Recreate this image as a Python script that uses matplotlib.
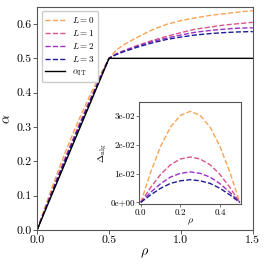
import matplotlib
matplotlib.use("Agg")
import matplotlib.pyplot as plt
from matplotlib.ticker import FormatStrFormatter
import numpy as np

plt.rcParams['font.family'] = 'serif'
plt.rcParams['font.serif'] = ['cmr10', 'DejaVu Serif']
plt.rcParams['mathtext.fontset'] = 'cm'
plt.rcParams['axes.formatter.use_mathtext'] = True
plt.rcParams['axes.unicode_minus'] = False

# data
rho_lo = [0.0, 0.05, 0.10, 0.15, 0.20, 0.25, 0.30, 0.35, 0.40, 0.45, 0.50]
delta = {
    0: [0, 0.0105, 0.0195, 0.0262, 0.0303, 0.0317, 0.0303, 0.0262, 0.0195, 0.0105, 0],
    1: [0, 0.0052, 0.0097, 0.0131, 0.0151, 0.0158, 0.0151, 0.0131, 0.0097, 0.0052, 0],
    2: [0, 0.0035, 0.0065, 0.0088, 0.0101, 0.0106, 0.0101, 0.0088, 0.0065, 0.0035, 0],
    3: [0, 0.0026, 0.0049, 0.0066, 0.0075, 0.0079, 0.0075, 0.0066, 0.0049, 0.0026, 0],
}
rho_hi = [0.5, 0.55, 0.6, 0.7, 0.8, 0.9, 1.0, 1.1, 1.2, 1.3, 1.4, 1.5]
alpha_hi = {
    0: [0.5, 0.524, 0.539, 0.562, 0.583, 0.599, 0.610, 0.618, 0.625, 0.630, 0.635, 0.639],
    1: [0.5, 0.513, 0.522, 0.538, 0.552, 0.564, 0.575, 0.585, 0.591, 0.597, 0.601, 0.605],
    2: [0.5, 0.512, 0.521, 0.536, 0.549, 0.559, 0.568, 0.576, 0.581, 0.585, 0.588, 0.589],
    3: [0.5, 0.511, 0.519, 0.533, 0.545, 0.555, 0.562, 0.568, 0.572, 0.575, 0.577, 0.578],
}
rho_it = [0.0, 0.5, 1.5]
alpha_it = [0.0, 0.5, 0.5]
colors = {0: '#f9a354', 1: '#d9558c', 2: '#9a2fc8', 3: '#1c1c96'}

fig = plt.figure(figsize=(2.65, 2.64), dpi=100)
ax = fig.add_axes([0.140, 0.129, 0.814, 0.845])

for L in range(4):
    a_lo = np.array(rho_lo) + np.array(delta[L])
    x = list(rho_lo) + rho_hi[1:]
    y = list(a_lo) + alpha_hi[L][1:]
    ax.plot(x, y, '--', color=colors[L], lw=1.0, label=r'$L = %d$' % L)
ax.plot(rho_it, alpha_it, '-', color='black', lw=1.0, label=r'$\alpha_{\rm IT}$')

ax.set_xlim(0, 1.5)
ax.set_ylim(0, 0.65)
ax.set_xticks([0.0, 0.5, 1.0, 1.5])
ax.set_yticks([0.0, 0.1, 0.2, 0.3, 0.4, 0.5, 0.6])
ax.xaxis.set_major_formatter(FormatStrFormatter('%.1f'))
ax.yaxis.set_major_formatter(FormatStrFormatter('%.1f'))
ax.tick_params(labelsize=8.5, length=3, width=0.6, color='#444444', pad=1)
ax.set_xlabel(r'$\rho$', fontsize=10, labelpad=1)
ax.set_ylabel(r'$\alpha$', fontsize=10, labelpad=2)
for s in ax.spines.values():
    s.set_color('#555555')
    s.set_linewidth(0.8)
ax.legend(loc='upper left', fontsize=6.5, handlelength=2.2, borderpad=0.4,
          labelspacing=0.35, edgecolor='#cccccc', framealpha=1)

ins = fig.add_axes([0.526, 0.227, 0.384, 0.385])
for L in range(4):
    ins.plot(rho_lo, delta[L], '--', color=colors[L], lw=1.0)
ins.set_xlim(-0.007, 0.507)
ins.set_ylim(-0.0006, 0.0348)
ins.set_xticks([0.0, 0.2, 0.4])
ins.set_yticks([0.0, 0.01, 0.02, 0.03])
ins.xaxis.set_major_formatter(FormatStrFormatter('%.1f'))
ins.yaxis.set_major_formatter(FormatStrFormatter('%.0e'))
ins.tick_params(labelsize=6.5, length=2, width=0.5, color='#444444', pad=1)
ins.set_xlabel(r'$\rho$', fontsize=7, labelpad=0)
ins.set_ylabel(r'$\Delta_{\rm nlg}$', fontsize=7, labelpad=1)
for s in ins.spines.values():
    s.set_color('#555555')
    s.set_linewidth(0.8)

fig.savefig('out.png', dpi=100)
